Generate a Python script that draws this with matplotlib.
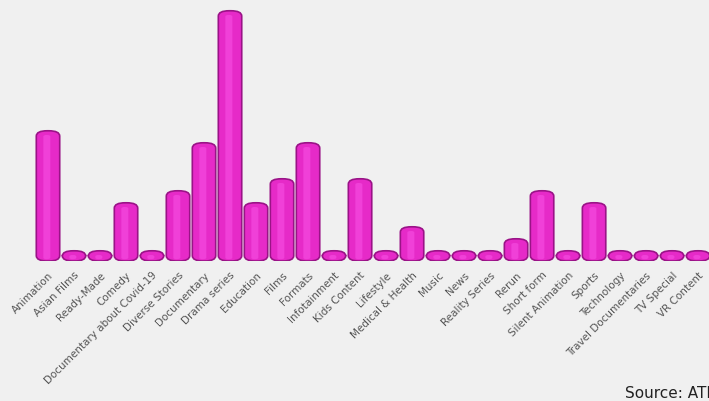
import matplotlib.pyplot as plt
from matplotlib.patches import FancyBboxPatch

categories = ["Animation", "Asian Films", "Ready-Made", "Comedy", "Documentary about Covid-19",
              "Diverse Stories", "Documentary", "Drama series", "Education", "Films", "Formats",
              "Infotainment", "Kids Content", "Lifestyle", "Medical & Health", "Music", "News",
              "Reality Series", "Rerun", "Short form", "Silent Animation", "Sports", "Technology",
              "Travel Documentaries", "TV Special", "VR Content"]
values = [10, 0, 0, 4, 0, 5, 9, 20, 4, 6, 9, 0, 6, 0, 2, 0, 0, 0, 1, 5, 0, 4, 0, 0, 0, 0]

bg = "#f0f0f0"
fig = plt.figure(figsize=(7.09, 4.02), dpi=100, facecolor=bg)
ax = fig.add_axes([0, 140 / 402, 1, 262 / 402])
ax.set_facecolor(bg)

cap = 0.85
width = 0.9
xs = list(range(len(categories)))
# plain bars first, then swap each for a rounded "cylinder"
bars = ax.bar(xs, [v + cap for v in values], width=width, alpha=0)
for b in bars:
    x0, y0 = b.get_x(), b.get_y()
    w, h = b.get_width(), b.get_height()
    ax.add_patch(FancyBboxPatch((x0, y0), w, h,
                                boxstyle="round,pad=0,rounding_size=0.42",
                                mutation_aspect=1.05,
                                facecolor="#e62ac8", edgecolor="#9a1387", linewidth=1.2))
    # lighter highlight strip
    ax.add_patch(FancyBboxPatch((x0 + w * 0.3, y0 + 0.15), w * 0.3, max(h - 0.5, 0.1),
                                boxstyle="round,pad=0,rounding_size=0.12",
                                facecolor="#f040d8", edgecolor="none"))

ax.set_xlim(-1.846, 25.42)
ax.set_ylim(0, 21.83)
ax.set_xticks(xs)
ax.set_xticklabels(categories, rotation=45, ha="right", rotation_mode="anchor",
                   fontsize=7.5, color="#555555")
ax.tick_params(axis="x", length=0, pad=6)
ax.set_yticks([])
for s in ax.spines.values():
    s.set_visible(False)

fig.text(0.882, 0.01, "Source: ATF", fontsize=11, color="#222222")

fig.savefig("out.png", dpi=100, facecolor=bg)
